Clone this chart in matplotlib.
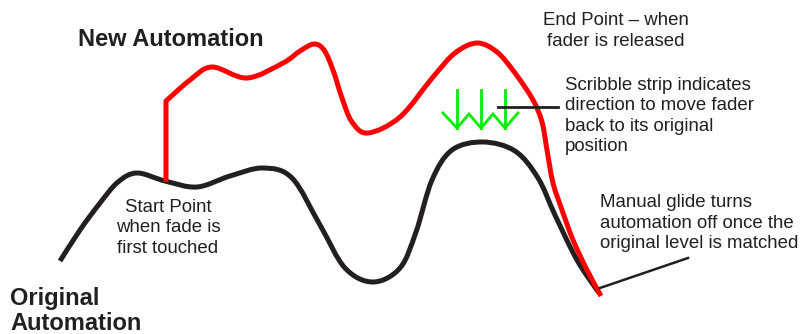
import numpy as np
import matplotlib.pyplot as plt
from matplotlib.path import Path
from matplotlib.patches import PathPatch

plt.rcParams['font.family'] = ['Liberation Sans', 'DejaVu Sans']

# points (pixel units, y downwards)
orig_x = [60, 80, 100, 118, 137, 165, 197, 230, 263, 292, 320, 345, 373, 400, 416, 432, 452, 483, 515, 538, 555, 577, 599]
orig_y = [261, 230, 203, 182, 173, 181, 187, 176, 168, 178, 225, 268, 282, 268, 232, 180, 150, 142, 151, 178, 215, 260, 293]

new_x = [166, 190, 212, 247, 283, 300, 314, 324, 333, 342, 352, 368, 400, 433, 455, 477, 497, 515, 533, 542, 547, 553, 562, 573, 587, 601]
new_y = [101, 80, 67, 78, 63, 51, 44, 50, 70, 98, 122, 133, 117, 77, 53, 43, 52, 73, 100, 122, 150, 183, 210, 240, 270, 296]
start_x, start_y = 166, 182

arrow_x = [457, 481, 505]
arrow_top, arrow_tip = 90, 128
wing_x = [443, 457, 469, 481, 493, 505, 518]
wing_y = [113, 128, 114, 128, 114, 128, 113]


def smooth_path(xs, ys, lead=None):
    pts = np.column_stack([xs, ys]).astype(float)
    verts, codes = [], []
    if lead is not None:
        verts += [lead, pts[0]]
        codes += [Path.MOVETO, Path.LINETO]
    else:
        verts.append(pts[0])
        codes.append(Path.MOVETO)
    n = len(pts)
    for i in range(n - 1):
        p0 = pts[max(i - 1, 0)]
        p1 = pts[i]
        p2 = pts[i + 1]
        p3 = pts[min(i + 2, n - 1)]
        verts += [p1 + (p2 - p0) / 6, p2 - (p3 - p1) / 6, p2]
        codes += [Path.CURVE4] * 3
    return Path(verts, codes)


fig = plt.figure(figsize=(8.01, 3.34), dpi=100)
ax = fig.add_axes([0, 0, 1, 1])
ax.set_xlim(0, 801)
ax.set_ylim(334, 0)
ax.axis('off')

ax.add_patch(PathPatch(smooth_path(orig_x, orig_y), fill=False, ec='#231f20',
                       lw=3.6, capstyle='butt'))
ax.add_patch(PathPatch(smooth_path(new_x, new_y, lead=(start_x, start_y)), fill=False,
                       ec='#ff0000', lw=3.6, capstyle='butt', joinstyle='miter'))

green = '#00ee00'
for x in arrow_x:
    ax.plot([x, x], [arrow_top, arrow_tip], color=green, lw=2)
ax.plot(wing_x, wing_y, color=green, lw=2, solid_joinstyle='miter')

# leader lines
ax.plot([498, 558], [107, 107], color='#231f20', lw=2)
ax.plot([600, 688], [288, 258], color='#231f20', lw=1.8)

tc = '#231f20'
ax.text(78, 40, 'New Automation', fontsize=17, fontweight='bold', color=tc, va='center', ha='left')
ax.text(10, 311, 'Original\nAutomation', fontsize=17, fontweight='bold', color=tc, va='center',
        ha='left', linespacing=1.15)
ax.text(616, 31, 'End Point \u2013 when\nfader is released', fontsize=13.4, color=tc, va='center',
        ha='center', linespacing=1.28)
ax.text(565, 116, 'Scribble strip indicates\ndirection to move fader\nback to its original\nposition',
        fontsize=13.4, color=tc, va='center', ha='left', linespacing=1.28)
ax.text(168, 228, 'Start Point\nwhen fade is\nfirst touched', fontsize=13.4, color=tc, va='center',
        ha='center', linespacing=1.28)
ax.text(600, 223, 'Manual glide turns\nautomation off once the\noriginal level is matched', fontsize=13.4,
        color=tc, va='center', ha='left', linespacing=1.28)

fig.savefig('out.png', dpi=100)
